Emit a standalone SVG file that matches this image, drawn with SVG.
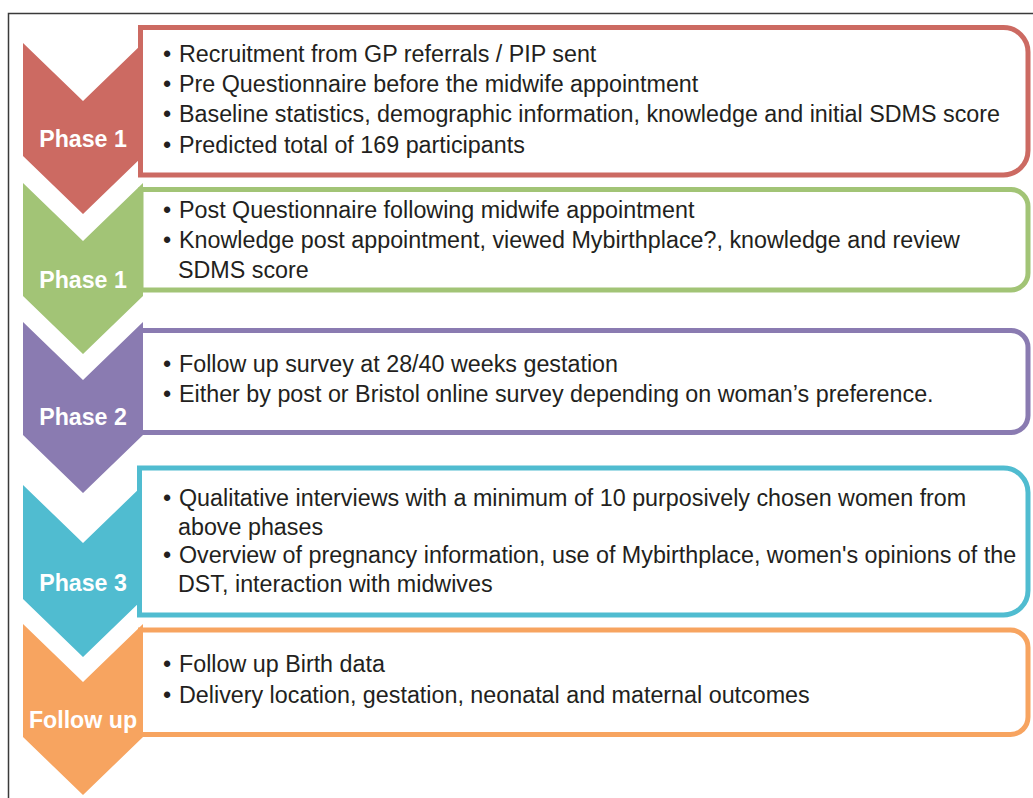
<svg xmlns="http://www.w3.org/2000/svg" width="1033" height="798" viewBox="0 0 1033 798">
<style>
.frame{fill:none;stroke:#3a3a3a;stroke-width:1.5}
.box{fill:#fff;stroke-width:5}
.lbl{font-family:"Liberation Sans",Arial,sans-serif;font-weight:bold;font-size:23.2px;fill:#fff;text-anchor:middle}
.txt{font-family:"Liberation Sans",Arial,sans-serif;font-size:23.3px;fill:#231f20}
.red{fill:#cc6a62}.redS{stroke:#cc6a62}
.grn{fill:#a2c476}.grnS{stroke:#a2c476}
.pur{fill:#8a7bb1}.purS{stroke:#8a7bb1}
.teal{fill:#50bcd0}.tealS{stroke:#50bcd0}
.org{fill:#f7a460}.orgS{stroke:#f7a460}
</style>
<rect width="1033" height="798" fill="#fff"/>
<path class="frame" d="M8.5,798 V13.5 H1033"/>
<g id="connectors"/>
<g id="phase1a">
<polygon class="red" points="23,43 83,101 143,43 143,156 83,214 23,156"/>
<path class="box redS" d="M140.5,27.5 H1003.5 A24.5,24.5 0 0 1 1028,52 V150.5 A24.5,24.5 0 0 1 1003.5,175 H140.5 Z"/>
<text class="lbl" x="83" y="147">Phase 1</text>
<text class="txt" y="62"><tspan x="163">•</tspan><tspan x="179">Recruitment from GP referrals / PIP sent</tspan></text>
<text class="txt" y="92"><tspan x="163">•</tspan><tspan x="179">Pre Questionnaire before the midwife appointment</tspan></text>
<text class="txt" y="122"><tspan x="163">•</tspan><tspan x="179">Baseline statistics, demographic information, knowledge and initial SDMS score</tspan></text>
<text class="txt" y="153"><tspan x="163">•</tspan><tspan x="179">Predicted total of 169 participants</tspan></text>
</g>
<g id="phase1b">
<polygon class="grn" points="23,183 83,241 143,183 143,296 83,354 23,296"/>
<path class="box grnS" d="M141,189.5 H1011 A17,17 0 0 1 1028,206.5 V273 A17,17 0 0 1 1011,290 H141 Z"/>
<text class="lbl" x="83" y="288">Phase 1</text>
<text class="txt" y="218"><tspan x="163">•</tspan><tspan x="179">Post Questionnaire following midwife appointment</tspan></text>
<text class="txt" y="248"><tspan x="163">•</tspan><tspan x="179">Knowledge post appointment, viewed Mybirthplace?, knowledge and review</tspan></text>
<text class="txt" y="278"><tspan x="178">SDMS score</tspan></text>
</g>
<g id="phase2">
<polygon class="pur" points="23,322 83,380 143,322 143,435 83,493 23,435"/>
<path class="box purS" d="M140.5,330.5 H1011 A17,17 0 0 1 1028,347.5 V415.5 A17,17 0 0 1 1011,432.5 H140.5 Z"/>
<text class="lbl" x="83" y="425">Phase 2</text>
<text class="txt" y="372"><tspan x="163">•</tspan><tspan x="179">Follow up survey at 28/40 weeks gestation</tspan></text>
<text class="txt" y="402"><tspan x="163">•</tspan><tspan x="179">Either by post or Bristol online survey depending on woman’s preference.</tspan></text>
</g>
<g id="phase3">
<polygon class="teal" points="23,485 83,543 143,485 143,599 83,657 23,599"/>
<path class="box tealS" d="M139.5,468 H1003.5 A24.5,24.5 0 0 1 1028,492.5 V590.5 A24.5,24.5 0 0 1 1003.5,615 H139.5 Z"/>
<text class="lbl" x="83" y="591">Phase 3</text>
<text class="txt" y="506"><tspan x="163">•</tspan><tspan x="179">Qualitative interviews with a minimum of 10 purposively chosen women from</tspan></text>
<text class="txt" y="535"><tspan x="178">above phases</tspan></text>
<text class="txt" y="563"><tspan x="163">•</tspan><tspan x="179">Overview of pregnancy information, use of Mybirthplace, women's opinions of the</tspan></text>
<text class="txt" y="592"><tspan x="178">DST, interaction with midwives</tspan></text>
</g>
<g id="followup">
<polygon class="org" points="23,624 83,682 143,624 143,737 83,795 23,737"/>
<path class="box orgS" d="M140.5,630 H1010.5 A17.5,17.5 0 0 1 1028,647.5 V717 A17.5,17.5 0 0 1 1010.5,734.5 H140.5 Z"/>
<text class="lbl" x="83" y="728">Follow up</text>
<text class="txt" y="672"><tspan x="163">•</tspan><tspan x="179">Follow up Birth data</tspan></text>
<text class="txt" y="703"><tspan x="163">•</tspan><tspan x="179">Delivery location, gestation, neonatal and maternal outcomes</tspan></text>
</g>
</svg>
